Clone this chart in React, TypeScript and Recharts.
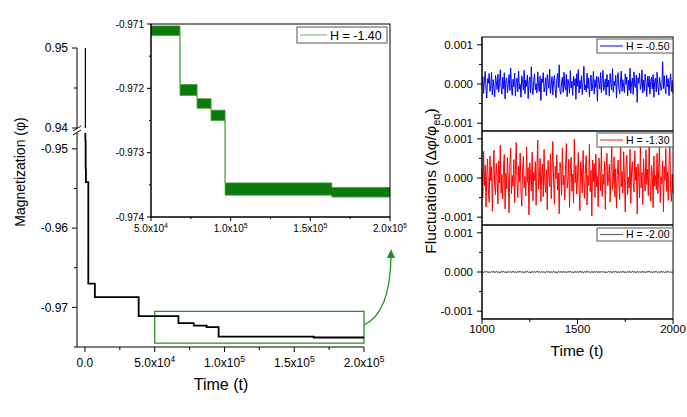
import React from "react"
import { LineChart, ComposedChart, Line, Area, XAxis, YAxis, ReferenceArea } from "recharts"

const W = 687
const H = 417
const FONT = '"Liberation Sans", Arial, sans-serif'

// main relaxation curve, drawn as stepAfter
const mainTime = [0, 300, 500, 700, 2400, 7100, 38500, 67000, 78000, 87200, 95800, 164000, 200000]
const mainMag = [0.97, -0.949, -0.9525, -0.9542, -0.967, -0.9687, -0.9711, -0.972, -0.9723, -0.9725, -0.9737, -0.9738, -0.9738]

// inset (H = -1.40): noise band per plateau
const insetTime = [50000, 68200, 78900, 87700, 96500, 163500, 200000]
const insetLo = [-0.97118, -0.97211, -0.97231, -0.9725, -0.97366, -0.97369, -0.97369]
const insetHi = [-0.97103, -0.97194, -0.97216, -0.97234, -0.97347, -0.97354, -0.97354]

// fluctuations, sampled evenly over t = 1000..2000
const fluctStart = 1000
const fluctEnd = 2000
// H = -0.50, units of 1e-4
const fluctBlue = [
  -0.6, 1.9, -2.4, 0.8, 3.2, -1.1, -3.6, 1.4, 0.2, 2.7,
  -1.9, -0.4, 3.0, -2.8, 1.1, -0.9, -3.3, 2.2, 0.6, -1.4,
  2.5, -2.1, 0.3, 3.6, -0.8, -2.6, 1.7, -1.2, 2.9, -3.8,
  0.9, 1.6, -2.3, -0.2, 2.4, -1.7, 4.1, -0.5, -2.9, 1.2,
  -0.7, 2.8, -3.1, 0.4, 1.5, -2.0, 3.3, -1.3, -0.1, -3.4,
  2.1, 0.7, -1.6, 3.5, -2.5, 1.0, -0.6, 2.3, -3.7, 0.5,
  1.8, -2.2, 4.4, -1.0, -2.7, 0.9, 2.6, -1.5, 0.1, -2.3,
  3.1, -0.3, -1.9, 2.0, -4.2, 1.3, 0.4, 2.9, -2.0, -0.8,
  1.6, -3.0, 2.4, 0.6, -1.1, 3.8, -2.4, -0.2, 1.9, -2.8,
  0.8, 2.2, -1.4, -3.5, 1.0, 2.7, -0.9, 4.9, -1.8, -2.6,
  0.3, 1.7, -2.1, 3.0, -0.7, -1.6, 2.5, -3.2, 1.2, 0.0,
  -2.4, 3.4, -1.0, 0.7, -2.9, 2.0, -0.4, 1.4, -3.9, 2.6,
  -0.6, 3.7, -2.3, 0.9, -1.2, 2.1, -2.7, 0.2, 4.5, -1.5,
  -0.3, -2.0, 2.8, -1.1, 1.5, -3.3, 0.6, 2.3, -1.8, -0.5,
  3.2, -2.6, 1.1, -0.9, 2.0, -4.4, 1.8, 0.4, -1.3, 2.9,
  -2.2, 0.8, 3.5, -1.7, -0.2, 1.3, -2.8, 2.4, -0.8, 1.0,
  -3.1, 2.7, 0.1, -1.5, 3.9, -2.1, 0.7, -0.4, 2.2, -3.6,
  1.4, 2.9, -1.2, -2.5, 0.5, 3.3, -1.9, 1.1, -0.7, -2.2,
  2.6, -0.1, 1.8, -3.0, 0.9, -1.6, 4.0, -2.4, 0.3, 1.5,
  -2.7, 3.1, -0.6, -1.0, 2.3, -4.7, 1.6, 0.2, 2.8, -1.4,
  -0.5, 3.6, -2.3, 1.0, -1.8, 2.5, 0.4, -3.2, 1.9, -0.8,
  2.0, -2.6, 0.6, 1.7, -1.3, 2.4, -3.4, 0.8, 1.5, -2.0,
  3.0, -0.4, -2.8, 1.7, 0.3, -1.6, -0.7, 5.7, -1.2, 2.1,
  -1.1, -2.5, 2.2, -0.7, 1.4, -3.0, 0.5, 2.6, -1.9, 0.9,
  -2.4,
]
// H = -1.30, units of 1e-4
const fluctRed = [
  2.4, -5.1, 6.8, -1.9, 3.3, -7.4, 0.8, 4.9, -3.0, -6.2,
  5.6, -0.7, 2.9, -8.5, 1.6, 7.1, -2.4, -4.3, 3.8, 0.2,
  -6.6, 4.4, -1.3, 8.3, -3.9, 0.9, -5.4, 2.6, 6.0, -7.9,
  1.2, -2.8, 5.2, -0.4, -8.9, 3.5, 7.6, -4.0, 0.6, -2.1,
  4.7, -6.3, 2.0, 9.1, -1.7, -5.0, 3.1, -0.9, 6.4, -3.6,
  -7.2, 1.9, 5.5, -2.5, 0.4, -4.6, 8.0, -1.1, 2.7, -9.4,
  3.9, 0.8, -3.3, 6.6, -5.8, 1.4, -0.6, 4.2, -7.0, 2.3,
  9.7, -2.9, -0.3, 5.0, -6.0, 1.1, 3.6, -4.8, 7.3, -1.5,
  -3.7, 2.1, -8.1, 4.5, 0.5, -2.2, 6.2, -5.3, 1.7, 9.3,
  -1.0, -6.7, 3.0, -0.2, 5.9, -3.1, 1.3, -9.1, 4.0, 2.5,
  -4.4, 7.7, -1.8, 0.7, -5.6, 3.4, 8.8, -2.6, -0.8, 4.8,
  -7.5, 2.2, 5.3, -3.4, 1.0, -6.4, 9.9, -1.2, 3.2, -4.1,
  0.3, 6.5, -2.7, -8.3, 4.1, 1.5, -3.8, 7.0, -0.5, -5.2,
  2.8, 5.7, -6.9, 0.6, -1.9, 8.6, -3.5, 2.0, -9.7, 4.6,
  -0.9, 3.7, -5.0, 6.1, -2.3, 0.4, -7.3, 5.1, 1.8, -3.2,
  7.9, -4.7, 0.9, -1.6, 4.3, -8.0, 2.6, 6.3, -2.0, -0.4,
  3.5, -6.1, 1.2, 8.1, -3.0, -0.7, 5.4, -4.9, 2.4, -7.7,
  0.7, 4.6, -1.4, -5.5, 9.0, -2.2, 1.6, -3.9, 6.7, -0.1,
  -8.7, 3.0, 5.8, -4.2, 0.2, -2.6, 7.4, -6.5, 1.9, 4.1,
  -1.1, -3.6, 6.9, -0.6, 2.8, -9.2, 3.6, 0.5, -5.1, 8.4,
  -2.5, 1.4, -6.8, 4.9, 0.0, -3.3, 7.2, -1.7, 2.3, -4.5,
  9.5, -0.8, -5.9, 3.3, 1.1, -7.6, 5.6, -2.1, 0.6, -3.0,
  6.3, -4.0, 2.1, 8.7, -6.3, 0.3, -1.5, 4.4, -8.6, 2.9,
  -0.6, 7.5, -3.4, 1.5, -5.7, 3.8, 9.0, -2.8, -6.0, 1.0,
  -3.9,
]
// H = -2.00, units of 1e-5
const fluctBlack = [
  0.5, -1.2, 0.9, -0.4, 1.4, -0.8, 0.2, -1.5, 1.1, -0.3,
  0.7, -1.0, 1.6, -0.6, 0.1, -1.3, 0.8, -0.2, 1.2, -0.9,
  0.4, -1.4, 1.0, -0.5, 0.6, -1.1, 1.5, -0.7, 0.3, -1.6,
  0.9, -0.1, 1.3, -0.8, 0.5, -1.2, 0.7, -0.4, 1.8, -1.0,
  0.2, -1.5, 1.1, -0.6, 0.8, -0.9, 1.4, -0.3, 0.6, -1.3,
  1.0, -0.5, 0.3, -1.7, 1.2, -0.2, 0.9, -1.1, 0.4, -0.7,
  1.6, -0.8, 0.1, -1.4, 1.0, -0.4, 0.7, -1.0, 1.3, -0.6,
  0.5, -1.2, 0.8, -0.1, 1.5, -0.9, 0.2, -1.6, 1.1, -0.3,
  0.6, -1.1, 1.7, -0.5, 0.4, -1.3, 0.9, -0.7, 1.2, -0.2,
  0.3, -1.5, 1.0, -0.8, 0.7, -0.4, 1.4, -1.0, 0.5, -0.6,
  1.1, -0.3, 0.8, -1.2, 0.2, -0.9, 1.6, -0.5, 0.6, -1.4,
  0.9, -0.1, 1.3, -0.7, 0.4, -1.1, 0.7, -0.6, 1.5, -0.8,
  0.1, -1.3, 1.0, -0.4, 0.8, -1.0, 1.2, -0.2, 0.5, -1.6,
  1.4, -0.6, 0.3, -0.9, 1.1, -0.5, 0.6, -1.2, 0.9, -0.3,
  1.7, -0.7, 0.2, -1.4, 0.8, -0.1, 1.0, -1.1, 0.4, -0.8,
  1.3, -0.4, 0.7, -1.5, 0.5, -0.2, 1.2, -0.9, 0.6, -1.0,
  0.3,
]

// ticks
const mainXTicks = [0, 25000, 50000, 75000, 100000, 125000, 150000, 175000, 200000]
const mainXMajor = [0, 50000, 100000, 150000, 200000]
const topYTicks = [0.94, 0.945, 0.95]
const topYMajor = [0.94, 0.95]
const lowYTicks = [-0.975, -0.97, -0.965, -0.96, -0.955, -0.95]
const lowYMajor = [-0.97, -0.96, -0.95]
const insetXTicks = [50000, 75000, 100000, 125000, 150000, 175000, 200000]
const insetXMajor = [50000, 100000, 150000, 200000]
const insetYTicks = [-0.974, -0.9735, -0.973, -0.9725, -0.972, -0.9715, -0.971]
const insetYMajor = [-0.974, -0.973, -0.972, -0.971]
const fluctYTicks = [-0.001, -0.0005, 0, 0.0005, 0.001]
const fluctYMajor = [-0.001, 0, 0.001]
const fluctXTicks = [1000, 1250, 1500, 1750, 2000]
const fluctXMajor = [1000, 1500, 2000]

const mainData = mainTime.map((t, i) => ({ t, m: mainMag[i] }))
const insetData = insetTime.map((t, i) => ({ t, band: [insetLo[i], insetHi[i]] }))
const toSeries = (vals: number[], unit: number) =>
  vals.map((v, i) => ({ t: fluctStart + (i * (fluctEnd - fluctStart)) / (vals.length - 1), v: v * unit }))
const blueData = toSeries(fluctBlue, 1e-4)
const redData = toSeries(fluctRed, 1e-4)
const blackData = toSeries(fluctBlack, 1e-5)

type Rect = { x: number; y: number; w: number; h: number }
const mainTopRect: Rect = { x: 77, y: 48, w: 287, h: 80 }
const mainLowRect: Rect = { x: 77, y: 133, w: 287, h: 214 }
const insetRect: Rect = { x: 151, y: 24, w: 239, h: 193 }
const fluctRects: Rect[] = [
  { x: 482, y: 37, w: 191, h: 94 },
  { x: 482, y: 131, w: 191, h: 94 },
  { x: 482, y: 225, w: 191, h: 94 },
]

// x axis gets 1px of height, so the plot box ends exactly at r.y + r.h
const margins = (r: Rect) => ({ top: r.y, left: 0, right: W - r.x - r.w, bottom: H - r.y - r.h - 1 })

function sci(v: number, fs: number) {
  if (v === 0) return "0.0"
  const e = Math.floor(Math.log10(v) + 1e-9)
  const m = (v / Math.pow(10, e)).toFixed(1)
  return (
    <>
      {m}x10
      <tspan dy={-fs * 0.45} fontSize={fs * 0.7}>{e}</tspan>
    </>
  )
}

function makeTick(
  side: "left" | "bottom",
  majors: number[],
  fmt: (v: number) => React.ReactNode,
  fs: number,
  majorLen: number,
  minorLen: number,
  gap: number
) {
  return (p: any) => {
    const v = p.payload.value
    const major = majors.includes(v)
    const len = major ? majorLen : minorLen
    if (side === "left") {
      return (
        <g key={`l${v}`}>
          <line x1={p.x} y1={p.y} x2={p.x - len} y2={p.y} stroke="#000" />
          {major && (
            <text x={p.x - majorLen - gap} y={p.y} dy="0.36em" textAnchor="end" fontSize={fs} fontFamily={FONT} fill="#000">
              {fmt(v)}
            </text>
          )}
        </g>
      )
    }
    return (
      <g key={`b${v}`}>
        <line x1={p.x} y1={p.y} x2={p.x} y2={p.y + len} stroke="#000" />
        {major && (
          <text x={p.x} y={p.y + majorLen + gap} textAnchor="middle" fontSize={fs} fontFamily={FONT} fill="#000">
            {fmt(v)}
          </text>
        )}
      </g>
    )
  }
}

const layer: React.CSSProperties = { position: "absolute", left: 0, top: 0 }

function FluctPanel({ r, data, color, last }: { r: Rect; data: { t: number; v: number }[]; color: string; last: boolean }) {
  return (
    <div style={layer}>
      <LineChart width={W} height={H} data={data} margin={margins(r)}>
        <XAxis
          dataKey="t"
          type="number"
          domain={[1000, 2000]}
          ticks={fluctXTicks}
          interval={0}
          height={1}
          tickSize={0}
          tickMargin={0}
          tickLine={false}
          axisLine={{ stroke: "#000" }}
          tick={last ? makeTick("bottom", fluctXMajor, (v) => String(v), 11.5, 5, 3, 9) : false}
        />
        <YAxis
          domain={[-0.0012, 0.0012]}
          allowDataOverflow
          ticks={fluctYTicks}
          interval={0}
          width={r.x}
          tickSize={0}
          tickMargin={0}
          tickLine={false}
          axisLine={{ stroke: "#000" }}
          tick={makeTick("left", fluctYMajor, (v) => v.toFixed(3), 11.5, 5, 3, 4)}
        />
        <Line dataKey="v" type="linear" stroke={color} strokeWidth={1} dot={false} isAnimationActive={false} />
      </LineChart>
    </div>
  )
}

function LegendBox({ x, y, w, h, color, label, fs, lineLen }: { x: number; y: number; w: number; h: number; color: string; label: string; fs: number; lineLen: number }) {
  return (
    <g>
      <rect x={x} y={y} width={w} height={h} fill="#fff" stroke="#555" strokeWidth={1} />
      <line x1={x + 3} x2={x + 3 + lineLen} y1={y + h / 2} y2={y + h / 2} stroke={color} strokeWidth={1.2} />
      <text x={x + lineLen + 6} y={y + h / 2} dy="0.36em" fontSize={fs} fontFamily={FONT} fill="#000">
        {label}
      </text>
    </g>
  )
}

export default function App() {
  return (
    <div style={{ position: "fixed", left: 0, top: 0, width: W, height: H, background: "#fff", overflow: "hidden" }}>
      {/* main chart, upper part of the broken axis */}
      <div style={layer}>
        <LineChart width={W} height={H} data={mainData} margin={{ ...margins(mainTopRect), bottom: H - mainTopRect.y - mainTopRect.h }}>
          <XAxis dataKey="t" type="number" domain={[-5700, 200000]} hide />
          <YAxis
            domain={[0.94, 0.95]}
            allowDataOverflow
            ticks={topYTicks}
            interval={0}
            width={mainTopRect.x}
            tickSize={0}
            tickMargin={0}
            tickLine={false}
            axisLine={{ stroke: "#000" }}
            tick={makeTick("left", topYMajor, (v) => v.toFixed(2), 12, 5, 3, 4)}
          />
          <Line dataKey="m" type="stepAfter" stroke="#000" strokeWidth={1.2} dot={false} isAnimationActive={false} />
        </LineChart>
      </div>
      {/* main chart, lower part */}
      <div style={layer}>
        <LineChart width={W} height={H} data={mainData} margin={margins(mainLowRect)}>
          <XAxis
            dataKey="t"
            type="number"
            domain={[-5700, 200000]}
            ticks={mainXTicks}
            interval={0}
            height={1}
            tickSize={0}
            tickMargin={0}
            tickLine={false}
            axisLine={{ stroke: "#000" }}
            tick={makeTick("bottom", mainXMajor, (v) => sci(v, 12), 12, 5, 3, 15)}
          />
          <YAxis
            domain={[-0.975, -0.948]}
            allowDataOverflow
            ticks={lowYTicks}
            interval={0}
            width={mainLowRect.x}
            tickSize={0}
            tickMargin={0}
            tickLine={false}
            axisLine={{ stroke: "#000" }}
            tick={makeTick("left", lowYMajor, (v) => v.toFixed(2), 12, 5, 3, 4)}
          />
          <ReferenceArea x1={50000} x2={200000} y1={-0.9745} y2={-0.9705} fill="none" stroke="#2a8f2a" strokeWidth={1.3} />
          <Line dataKey="m" type="stepAfter" stroke="#000" strokeWidth={1.8} dot={false} isAnimationActive={false} />
        </LineChart>
      </div>
      {/* inset */}
      <div style={layer}>
        <ComposedChart width={W} height={H} data={insetData} margin={margins(insetRect)}>
          <XAxis
            dataKey="t"
            type="number"
            domain={[50000, 200000]}
            ticks={insetXTicks}
            interval={0}
            height={1}
            tickSize={0}
            tickMargin={0}
            tickLine={false}
            axisLine={{ stroke: "#000" }}
            tick={makeTick("bottom", insetXMajor, (v) => sci(v, 10), 10, 4, 2, 11)}
          />
          <YAxis
            domain={[-0.974, -0.971]}
            allowDataOverflow
            ticks={insetYTicks}
            interval={0}
            width={insetRect.x}
            tickSize={0}
            tickMargin={0}
            tickLine={false}
            axisLine={{ stroke: "#000" }}
            tick={makeTick("left", insetYMajor, (v) => v.toFixed(3), 10, 4, 2, 3)}
          />
          <Area dataKey="band" type="stepAfter" fill="#0a7a0a" fillOpacity={1} stroke="#3f9f3f" strokeWidth={0.8} isAnimationActive={false} />
        </ComposedChart>
      </div>
      {/* fluctuation panels */}
      <FluctPanel r={fluctRects[0]} data={blueData} color="#0000ff" last={false} />
      <FluctPanel r={fluctRects[1]} data={redData} color="#ff0000" last={false} />
      <FluctPanel r={fluctRects[2]} data={blackData} color="#222" last />

      {/* annotations */}
      <svg width={W} height={H} style={{ ...layer, pointerEvents: "none" }}>
        {/* axis break */}
        <line x1={73} y1={131} x2={81} y2={126} stroke="#000" strokeWidth={1} />
        <line x1={73} y1={135} x2={81} y2={130} stroke="#000" strokeWidth={1} />
        {/* arrow from zoom box to inset */}
        <path d="M364,325 Q390,313 391,257" fill="none" stroke="#1f8f1f" strokeWidth={1.3} />
        <path d="M387,258 L391,249 L395,258 Z" fill="#1f8f1f" />
        {/* inset frame and legend */}
        <rect x={insetRect.x} y={insetRect.y} width={insetRect.w} height={insetRect.h} fill="none" stroke="#000" strokeWidth={1} />
        <LegendBox x={297} y={27} w={90} h={16} color="#7cc47c" label="H = -1.40" fs={12.5} lineLen={27} />
        {/* fluctuation frames and legends */}
        <rect x={482} y={37} width={191} height={282} fill="none" stroke="#000" strokeWidth={1} />
        <line x1={482} x2={673} y1={131} y2={131} stroke="#000" strokeWidth={1.2} />
        <line x1={482} x2={673} y1={225} y2={225} stroke="#000" strokeWidth={1.2} />
        <LegendBox x={597} y={39} w={76} h={14} color="#2a2aff" label="H = -0.50" fs={10.5} lineLen={23} />
        <LegendBox x={597} y={133} w={76} h={14} color="#ff4040" label="H = -1.30" fs={10.5} lineLen={23} />
        <LegendBox x={597} y={228} w={76} h={13} color="#666" label="H = -2.00" fs={10.5} lineLen={23} />
        {/* axis titles */}
        <text x={20} y={172} transform="rotate(-90 20 172)" textAnchor="middle" dy="0.36em" fontSize={14} fontFamily={FONT} fill="#000">
          Magnetization (φ)
        </text>
        <text x={221} y={390} textAnchor="middle" fontSize={16} fontFamily={FONT} fill="#000">
          Time (t)
        </text>
        <text x={430} y={181} transform="rotate(-90 430 181)" textAnchor="middle" dy="0.36em" fontSize={15.5} fontFamily={FONT} fill="#000">
          Fluctuations (Δφ/φ<tspan dy={4} fontSize={11}>eq</tspan>
          <tspan dy={-4}>)</tspan>
        </text>
        <text x={577} y={356} textAnchor="middle" fontSize={15.5} fontFamily={FONT} fill="#000">
          Time (t)
        </text>
      </svg>
    </div>
  )
}
